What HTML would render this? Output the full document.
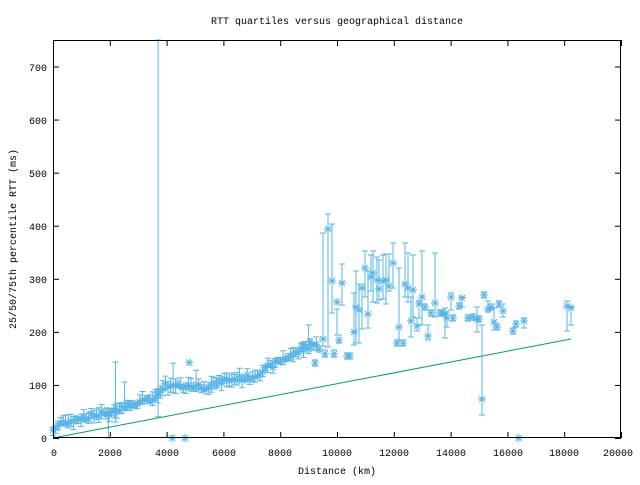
<!DOCTYPE html>
<html><head><meta charset="utf-8"><style>
body{margin:0;background:#fff}
svg text{font-family:"Liberation Mono","DejaVu Sans Mono",monospace;font-size:10px;fill:#000}
</style></head><body>
<svg id="s" width="640" height="480" xmlns="http://www.w3.org/2000/svg">
<rect width="640" height="480" fill="#fff"/>
<text x="337" y="24" text-anchor="middle">RTT quartiles versus geographical distance</text>
<text x="337" y="474" text-anchor="middle">Distance (km)</text>
<text transform="translate(16,239) rotate(-90)" text-anchor="middle">25/50/75th percentile RTT (ms)</text>
<g text-anchor="end">
<text x="47" y="442">0</text><text x="47" y="389">100</text><text x="47" y="336">200</text><text x="47" y="283">300</text><text x="47" y="230">400</text><text x="47" y="177">500</text><text x="47" y="124">600</text><text x="47" y="71">700</text>
</g>
<g text-anchor="middle">
<text x="54" y="456">0</text><text x="110" y="456">2000</text><text x="167" y="456">4000</text><text x="224" y="456">6000</text><text x="280" y="456">8000</text><text x="337" y="456">10000</text><text x="394" y="456">12000</text><text x="451" y="456">14000</text><text x="508" y="456">16000</text><text x="564" y="456">18000</text><text x="618" y="456">20000</text>
</g>
<g id="ax" stroke="#000" stroke-width="1" fill="none"></g>
<g id="d" stroke="#56b4e9" stroke-width="1" fill="none"></g>
<line x1="53" y1="438" x2="571" y2="339" stroke="#009e73" stroke-width="1"/>
<rect x="53.5" y="40.5" width="567" height="397" fill="none" stroke="#000"/>
</svg>
<script>
var ax=document.getElementById('ax'),d=document.getElementById('d'),NS='http://www.w3.org/2000/svg';
function L(g,a,b,c,e){var l=document.createElementNS(NS,'line');l.setAttribute('x1',a);l.setAttribute('y1',b);l.setAttribute('x2',c);l.setAttribute('y2',e);g.appendChild(l);}
for(var i=0;i<=7;i++){var y=438-i*53.07+.5;L(ax,53,y,59,y);L(ax,621,y,615,y);}
for(var i=0;i<=10;i++){var x=53.5+i*56.8;L(ax,x,438,x,432);L(ax,x,40,x,46);}
function px(k){return 53+k*0.0284}function py(v){return 438-v*0.5307}
function star(x,y){L(d,x-4,y,x+4,y);L(d,x,y-4,x,y+4);L(d,x-3,y-3,x+3,y+3);L(d,x-3,y+3,x+3,y-3);}
function bar(x,y,lo,hi){L(d,x,lo,x,hi);L(d,x-3,lo,x+3,lo);L(d,x-3,hi,x+3,hi);star(x,y);}
var seed=7;function r(){seed=(seed*9301+49297)%233280;return seed/233280;}
function trend(k){var pts=[[0,15],[300,28],[1000,38],[2000,48],[2500,60],[3000,68],[3500,72],[3800,85],[4000,100],[5500,97],[6000,108],[7000,115],[7500,130],[8000,145],[9000,172],[9300,178]];
for(var i=1;i<pts.length;i++)if(k<=pts[i][0]){var a=pts[i-1],b=pts[i];return a[1]+(b[1]-a[1])*(k-a[0])/(b[0]-a[0]);}return 178;}
for(var k=0;k<9300;k+=90){var v=trend(k)+(r()-.5)*10;var x=px(k),y=py(v);var lo=y+2+r()*6,hi=y-2-r()*7;if(r()<.06)hi=y-15-r()*20;bar(x,y,lo,hi);}
bar(px(3700),py(85),py(40),40);bar(px(2200),py(55),py(30),py(143));bar(px(1950),py(45),py(0),py(55));
star(px(4200),438);star(px(4650),438);star(px(16400),438);star(px(4800),py(142));
var P=[[323,339,346,233],[328,229,347,214],[332,281,313,224],[337,302,335,309],[339,340,343,335],[342,283,305,264],[334,354,357,350],[325,354,357,350],[315,363,366,360],[319,349,352,346],[303,345,348,342],[310,342,345,339],[347,356,359,353],[350,356,359,353],
[354,332,345,293],[356,307,343,271],[359,310,343,284],[362,288,329,284],[365,268,297,251],[368,314,328,271],[371,277,291,255],[373,273,302,251],[377,280,303,257],[379,289,300,260],[383,281,299,255],[386,280,304,254],[389,286,291,254],[393,263,288,243],[397,343,346,340],[399,327,343,268],[403,343,346,340],[405,284,297,243],[408,288,302,253],[411,321,337,297],[413,290,317,255],[417,326,331,318],[419,304,318,301],[422,297,325,251],[425,307,310,304],[428,336,340,325],[431,313,316,310],[435,303,317,253],[440,313,316,310],[443,313,316,310],[445,314,338,308],[447,318,327,312],[451,297,310,293],[453,318,321,315],[459,306,309,303],[462,298,307,297],[468,318,321,315],[473,317,320,314],[477,319,332,307],[479,319,322,316],[482,399,415,325],[484,295,298,292],[488,309,312,301],[491,307,310,304],[494,322,330,308],[497,327,330,324],[499,304,307,301],[503,311,317,304],[513,331,334,328],[516,324,327,321],[524,321,328,318],[567,306,331,301],[571,308,325,307]];
P.forEach(function(p){bar(p[0],p[1],p[2],p[3]);});
</script>
</body></html>
